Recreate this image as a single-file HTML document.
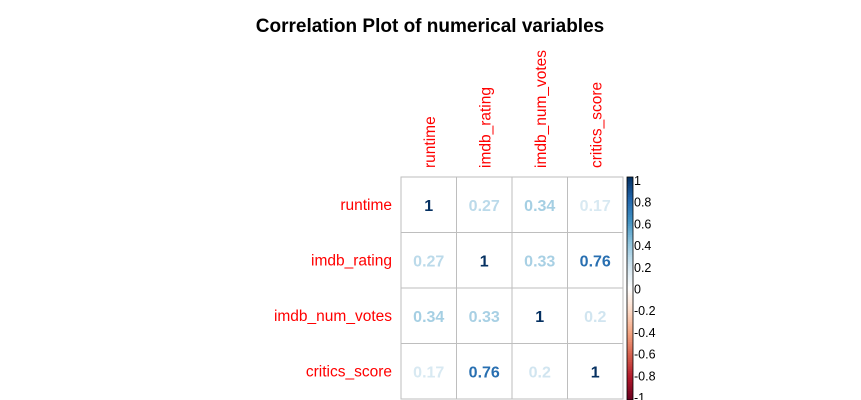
<!DOCTYPE html>
<html><head><meta charset="utf-8"><style>
body{margin:0;background:#fff;}
svg{display:block;font-family:"Liberation Sans",sans-serif;}
</style></head><body>
<svg id="c" width="861" height="400">
<text x="430" y="32" text-anchor="middle" font-size="19" font-weight="bold" fill="#000">Correlation Plot of numerical variables</text>
<g id="g"></g>
</svg>
<script>
const vars = ["runtime","imdb_rating","imdb_num_votes","critics_score"];
const row0 = [1,0.27,0.34,0.17];
const row1 = [0.27,1,0.33,0.76];
const row2 = [0.34,0.33,1,0.2];
const row3 = [0.17,0.76,0.2,1];
const matrix = [row0,row1,row2,row3];
const legendTicks = [1,0.8,0.6,0.4,0.2,0,-0.2,-0.4,-0.6,-0.8,-1];
const labelTicks = ["1","0.8","0.6","0.4","0.2","0","-0.2","-0.4","-0.6","-0.8","-1"];

const NS="http://www.w3.org/2000/svg";
const g=document.getElementById('g');
const x0=401,y0=177,cw=55.5,ch=55.5;
const barX=627,barW=6,barTop=177,barBot=400;
const stops=[[-1,[103,0,31]],[-0.8,[178,24,43]],[-0.6,[214,96,77]],[-0.4,[244,165,130]],[-0.2,[253,219,199]],[0,[255,255,255]],[0.2,[209,229,240]],[0.4,[146,197,222]],[0.6,[67,147,195]],[0.8,[33,102,172]],[1,[5,48,97]]];
function col(v){for(let i=0;i<stops.length-1;i++){const [a,ca]=stops[i],[b,cb]=stops[i+1];if(v>=a&&v<=b){const t=(v-a)/(b-a);return 'rgb('+ca.map((c,k)=>Math.round(c+(cb[k]-c)*t)).join(',')+')';}}return 'rgb(5,48,97)';}
function mk(t,a){const e=document.createElementNS(NS,t);for(const k in a)e.setAttribute(k,a[k]);g.appendChild(e);return e;}
function yScale(v){return barTop+(1-v)/2*(barBot-barTop-6)+3;}

vars.forEach((v,i)=>{
  const t=mk('text',{x:x0-9,y:y0+ch*i+ch/2+5,'text-anchor':'end','font-size':15.5,fill:'#f00'});
  t.textContent=v;
  
  
  const cx=x0+cw*i+cw/2+6, cy=y0-9;
  const t2=mk('text',{x:cx,y:cy,'font-size':15.5,fill:'#f00',transform:'rotate(-90 '+cx+' '+cy+')'});
  t2.textContent=v;
  
  
});
matrix.forEach((r,i)=>r.forEach((val,j)=>{
  const rc=mk('rect',{x:x0+cw*j,y:y0+ch*i,width:cw,height:ch,fill:'#fff',stroke:'#bebebe','stroke-width':1});
  
  
  const t=mk('text',{x:x0+cw*j+cw/2,y:y0+ch*i+ch/2+6,'text-anchor':'middle','font-size':16,'font-weight':'bold',fill:col(val)});
  t.textContent=String(val);
  
  
}));
for(let k=0;k<100;k++){
  const v1=1-k*0.02;
  const r=mk('rect',{x:barX,y:barTop+(barBot-barTop)*k/100,width:barW,height:(barBot-barTop)/100+0.5,fill:col(v1-0.01)});
  
  
}
const fr=mk('rect',{x:barX,y:barTop,width:barW,height:barBot-barTop,fill:'none',stroke:'#000','stroke-width':0.8});


legendTicks.forEach((v,i)=>{
  const t=mk('text',{x:barX+7,y:yScale(v)+5,'font-size':12.5,fill:'#000'});
  t.textContent=labelTicks[i];
  
  
});
</script>
</body></html>
